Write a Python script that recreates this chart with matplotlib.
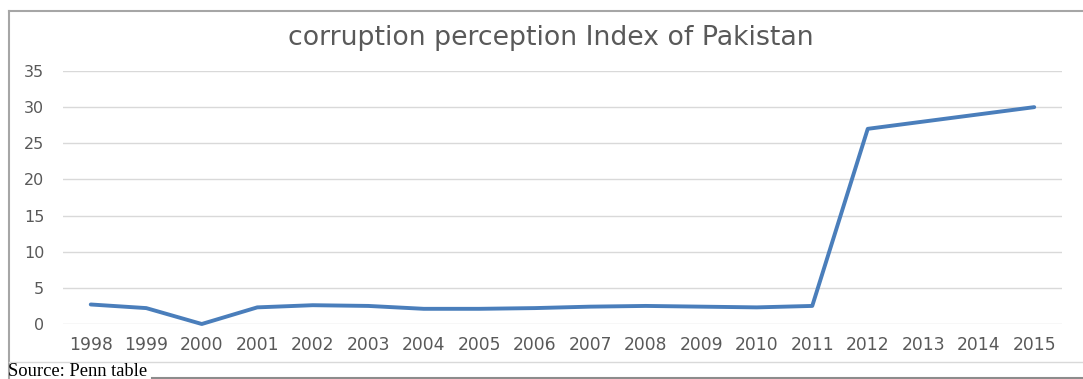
import matplotlib
matplotlib.use("Agg")
import matplotlib.pyplot as plt
from matplotlib.lines import Line2D

years = ["1998", "1999", "2000", "2001", "2002", "2003", "2004", "2005", "2006",
         "2007", "2008", "2009", "2010", "2011", "2012", "2013", "2014", "2015"]
cpi = [2.7, 2.2, 0.0, 2.3, 2.6, 2.5, 2.1, 2.1, 2.2,
       2.4, 2.5, 2.4, 2.3, 2.5, 27, 28, 29, 30]
y_ticks = [0, 5, 10, 15, 20, 25, 30, 35]

W, H = 1083, 379
fig = plt.figure(figsize=(W / 100, H / 100), dpi=100)
fig.patch.set_facecolor("white")

# plot area in pixel terms
left, right, top, bottom = 63, 1062, 71, 324
ax = fig.add_axes([left / W, 1 - bottom / H, (right - left) / W, (bottom - top) / H])

x = list(range(len(years)))
ax.plot(x, cpi, color="#4A7EBB", lw=2.8, solid_joinstyle="round", solid_capstyle="round",
        zorder=3, clip_on=False)

ax.set_xlim(-0.5, len(years) - 0.5)
ax.set_ylim(0, 35)
ax.set_yticks(y_ticks)
ax.set_xticks(x)
ax.set_xticklabels(years)
ax.grid(axis="y", color="#D9D9D9", lw=1.0)
ax.set_axisbelow(True)
for s in ax.spines.values():
    s.set_visible(False)
ax.tick_params(axis="x", length=0, colors="#595959", labelsize=12.3, pad=8.5)
ax.tick_params(axis="y", length=0, colors="#595959", labelsize=11.5, pad=13.5)
for lab in ax.get_xticklabels() + ax.get_yticklabels():
    lab.set_family("DejaVu Sans")

fig.text(551 / W, 1 - 38 / H, "corruption perception Index of Pakistan",
         ha="center", va="center", fontsize=19.3, color="#595959", family="DejaVu Sans")

# chart frame
def hline(y, x0, x1, color, lw):
    fig.add_artist(Line2D([x0 / W, x1 / W], [1 - y / H, 1 - y / H], color=color, lw=lw,
                          transform=fig.transFigure))

def vline(xp, y0, y1, color, lw):
    fig.add_artist(Line2D([xp / W, xp / W], [1 - y0 / H, 1 - y1 / H], color=color, lw=lw,
                          transform=fig.transFigure))

hline(10.5, 9, W, "#A6A6A6", 1.5)
vline(9, 10.5, H, "#A6A6A6", 1.5)
hline(362, 9, W, "#D9D9D9", 1.0)
hline(377.5, 152, W, "#8C8C8C", 1.5)

fig.text(8 / W, 1 - 375.5 / H, "Source: Penn table", ha="left", va="baseline",
         fontsize=13.3, color="black", family="Liberation Serif")

fig.savefig("out.png", dpi=100, facecolor="white")
